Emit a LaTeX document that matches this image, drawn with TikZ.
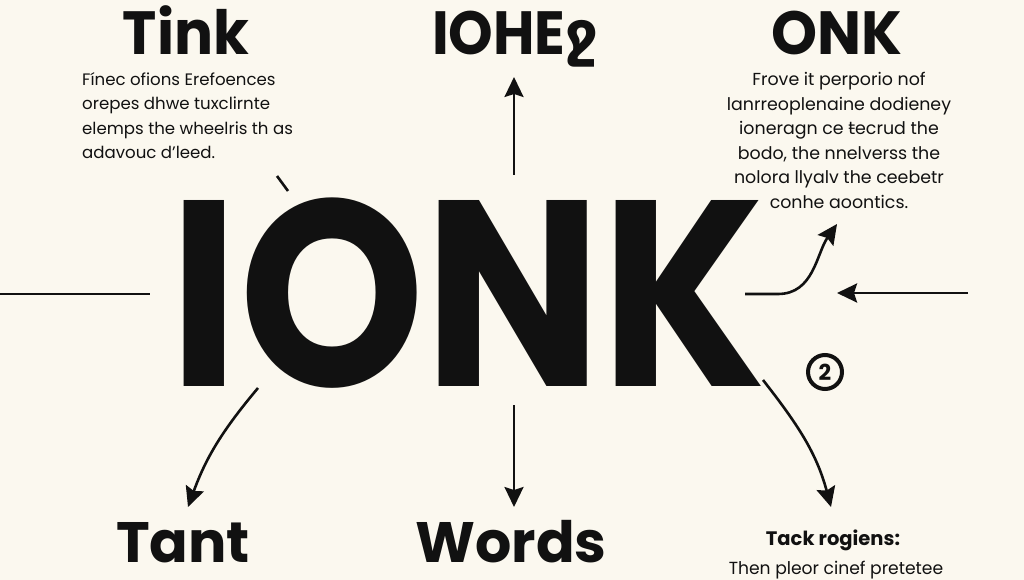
\documentclass[tikz,border=0pt]{standalone}
\usepackage{fontspec}
\setmainfont{Poppins}
\newfontfamily\dejavu{DejaVu Sans}
\usetikzlibrary{arrows.meta}
\definecolor{paper}{HTML}{FBF8EF}
\definecolor{ink}{HTML}{111111}
\tikzset{
  title/.style={inner sep=0, anchor=base, text=ink, font=\fontsize{61}{66}\selectfont\bfseries},
  bigword/.style={inner sep=0, anchor=base, text=ink, font=\fontsize{265}{280}\selectfont\bfseries},
  lowtitle/.style={inner sep=0, anchor=base, text=ink, font=\fontsize{57}{62}\selectfont\bfseries},
  para/.style={inner sep=0, text=ink, font=\fontsize{16.6}{24.6}\selectfont},
  conn/.style={draw=ink, line width=2.6pt},
  arr/.style={conn, -{Stealth[length=20pt,width=19pt,inset=3pt]}},
}
\begin{document}
\begin{tikzpicture}[x=1pt,y=-1pt]
\fill[paper] (0,0) rectangle (1024,580);
\useasboundingbox (0,0) rectangle (1024,580);

% titles
\node[title, xscale=0.95] (tink) at (186,55) {Tink};
\node[title, xscale=0.93] (iohe) at (515,55) {IOHE{\dejavu\bfseries ջ}};
\node[title, xscale=0.96] (onk) at (837,55) {ONK};

% paragraphs
\node[para, anchor=north west, align=left] (lpara) at (82,72)
  {Fínec ofions Erefoences\\orepes dhwe tuxclirnte\\elemps the wheelris th as\\adavouc d'leed.};
\node[para, anchor=north, align=center, font=\fontsize{17.4}{24.6}\selectfont] (rpara) at (839,72)
  {Frove it perporio nof\\lanrreoplenaine dodieney\\ioneragn ce {\dejavu ŧ}ecrud the\\bodo, the nnelverss the\\nolora llyalv the ceebetr\\conhe aoontics.};

% big word
\node[bigword, xscale=0.89] (ionk) at (468,386) {IONK};

% bottom titles
\node[lowtitle] (tant) at (183,562) {Tant};
\node[lowtitle] (words) at (511,562) {Words};
\node[inner sep=0, anchor=base, text=ink, font=\fontsize{19.5}{22}\selectfont\bfseries] (tack) at (833,545) {Tack rogiens:};
\node[inner sep=0, anchor=base, text=ink, font=\fontsize{17.5}{20}\selectfont, xscale=0.98] (then) at (836,574) {Then pleor cinef pretetee};

% circled two
\node[circle, draw=ink, line width=4pt, minimum size=34pt, inner sep=0, text=ink,
      font=\fontsize{22}{24}\selectfont\bfseries] (two) at (825,372) {2};

% connector endpoints
\coordinate (l1) at (0,294);
\coordinate (l2) at (150,294);
\coordinate (u1) at (514,175);
\coordinate (u2) at (514,77);
\coordinate (h1) at (745,294);
\coordinate (h2) at (778,294);
\coordinate (h3) at (837,224);
\coordinate (r1) at (968,293);
\coordinate (r2) at (837,293);
\coordinate (t1) at (277,176);
\coordinate (t2) at (288,191);
\coordinate (b1) at (258,388);
\coordinate (b2) at (188,507);
\coordinate (m1) at (514,405);
\coordinate (m2) at (514,507);
\coordinate (c1) at (763,380);
\coordinate (c2) at (831,507);

\draw[conn] (l1) -- (l2);
\draw[arr] (u1) -- (u2);
\draw[arr] (h1) -- (h2) to[out=0,in=-125] (h3);
\draw[arr] (r1) -- (r2);
\draw[conn] (t1) -- (t2);
\draw[arr] (b1) to[out=-130,in=70] (b2);
\draw[arr] (m1) -- (m2);
\draw[arr] (c1) to[out=-52,in=105] (c2);
\end{tikzpicture}
\end{document}
